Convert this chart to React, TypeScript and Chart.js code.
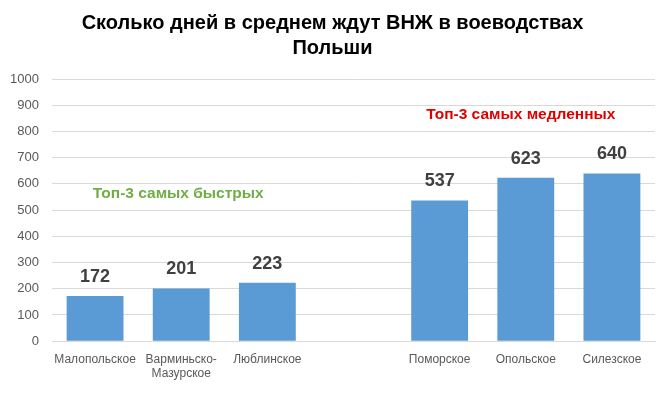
import React, { useEffect, useRef } from "react";
import { Chart, registerables } from "chart.js";

Chart.register(...registerables);

const categories: (string | string[])[] = [
  "Малопольское",
  ["Варминьско-", "Мазурское"],
  "Люблинское",
  "",
  "Поморское",
  "Опольское",
  "Силезское",
];
const waitDays: (number | null)[] = [172, 201, 223, null, 537, 623, 640];
const titleLines = ["Сколько дней в среднем ждут ВНЖ в воеводствах", "Польши"];
const fastLabel = "Топ-3 самых быстрых";
const slowLabel = "Топ-3 самых медленных";

const FONT = "'Liberation Sans', 'DejaVu Sans', sans-serif";

const labelsPlugin = {
  id: "customLabels",
  afterDatasetsDraw(chart: any) {
    const ctx = chart.ctx;
    const meta = chart.getDatasetMeta(0);
    const xs = chart.scales.x;
    const ys = chart.scales.y;
    ctx.save();
    ctx.font = `bold 18px ${FONT}`;
    ctx.fillStyle = "#404040";
    ctx.textAlign = "center";
    ctx.textBaseline = "middle";
    meta.data.forEach((bar: any, i: number) => {
      const v = waitDays[i];
      if (v == null) return;
      ctx.fillText(String(v), bar.x, bar.y - 19);
    });
    ctx.font = `bold 15.5px ${FONT}`;
    ctx.fillStyle = "#70AD47";
    ctx.fillText(fastLabel, xs.getPixelForValue(1) - 3, ys.getPixelForValue(563));
    ctx.fillStyle = "#E00000";
    ctx.fillText(slowLabel, xs.getPixelForValue(5) - 5, ys.getPixelForValue(862));
    ctx.restore();
  },
};

export default function App() {
  const ref = useRef<HTMLCanvasElement | null>(null);
  useEffect(() => {
    document.body.style.margin = "0";
    const chart = new Chart(ref.current!, {
      type: "bar",
      data: {
        labels: categories,
        datasets: [
          {
            data: waitDays,
            backgroundColor: "#5B9BD5",
            barPercentage: 0.66,
            categoryPercentage: 1,
          },
        ],
      },
      options: {
        animation: false,
        responsive: false,
        layout: { autoPadding: false, padding: { left: 10, right: 14, bottom: 4, top: 0 } },
        plugins: {
          legend: { display: false },
          tooltip: { enabled: false },
          title: {
            display: true,
            text: titleLines,
            color: "#000000",
            font: { family: FONT, size: 20, weight: "bold", lineHeight: 1.25 },
            padding: { top: 11, bottom: 18 },
          },
        },
        scales: {
          x: {
            grid: { display: false, drawTicks: false },
            border: { display: true, color: "#D9D9D9" },
            ticks: {
              color: "#595959",
              font: { family: FONT, size: 12 },
              padding: 11,
              maxRotation: 0,
              autoSkip: false,
            },
          },
          y: {
            min: 0,
            max: 1000,
            grid: { color: "#D9D9D9", drawTicks: false },
            border: { display: false },
            afterFit: (scale: any) => {
              scale.width = 42;
            },
            ticks: {
              stepSize: 100,
              color: "#595959",
              font: { family: FONT, size: 13 },
              padding: 13,
              callback: (v: any) => String(v),
            },
          },
        },
      },
      plugins: [labelsPlugin],
    });
    return () => chart.destroy();
  }, []);
  return (
    <div style={{ width: 669, height: 396 }}>
      <canvas ref={ref} width={669} height={396} />
    </div>
  );
}
